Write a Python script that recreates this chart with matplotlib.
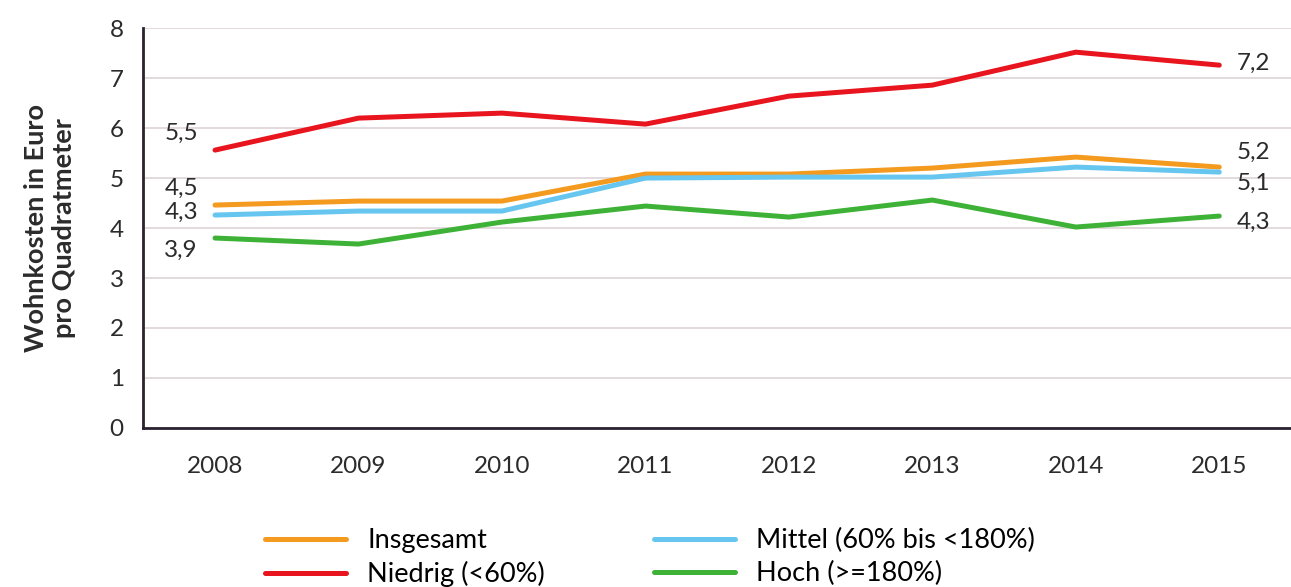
import matplotlib.pyplot as plt

plt.rcParams["font.family"] = ["Lato", "DejaVu Sans"]

# Daten
jahre = [2008, 2009, 2010, 2011, 2012, 2013, 2014, 2015]
insgesamt = [4.46, 4.54, 4.54, 5.08, 5.08, 5.20, 5.42, 5.22]
niedrig = [5.56, 6.20, 6.30, 6.08, 6.64, 6.86, 7.52, 7.26]
mittel = [4.26, 4.34, 4.34, 5.00, 5.02, 5.02, 5.22, 5.12]
hoch = [3.80, 3.68, 4.12, 4.44, 4.22, 4.56, 4.02, 4.24]

labels_links = {"niedrig": "5,5", "insgesamt": "4,5", "mittel": "4,3", "hoch": "3,9"}
labels_rechts = {"niedrig": "7,2", "insgesamt": "5,2", "mittel": "5,1", "hoch": "4,3"}

serien = [
    ("insgesamt", "Insgesamt", insgesamt, "#f39a1f"),
    ("niedrig", "Niedrig (<60%)", niedrig, "#e8141e"),
    ("mittel", "Mittel (60% bis <180%)", mittel, "#66c6ef"),
    ("hoch", "Hoch (>=180%)", hoch, "#3db236"),
]

# Label-Versatz in Pixeln (links / rechts)
off_links = {"niedrig": (-34, 17), "insgesamt": (-34, 17), "mittel": (-34, 3), "hoch": (-34, -12)}
off_rechts = {"niedrig": (34, 2), "insgesamt": (34, 15), "mittel": (34, -11), "hoch": (34, -6)}

fig = plt.figure(figsize=(12.91, 5.87), dpi=100)
ax = fig.add_axes([0.111, 0.271, 0.889, 0.681])

for key, name, werte, farbe in serien:
    ax.plot(jahre, werte, color=farbe, lw=3.6, solid_capstyle="round", label=name, zorder=3)
    ax.annotate(labels_links[key], xy=(jahre[0], werte[0]), xytext=off_links[key],
                textcoords="offset pixels", ha="center", va="center",
                fontsize=17.5, color="#2b2b2b")
    ax.annotate(labels_rechts[key], xy=(jahre[-1], werte[-1]), xytext=off_rechts[key],
                textcoords="offset pixels", ha="center", va="center",
                fontsize=17.5, color="#2b2b2b")

ax.set_xlim(2007.5, 2015.5)
ax.set_ylim(0, 8)
ax.set_xticks(jahre)
ax.set_yticks(range(0, 9))
ax.tick_params(axis="both", length=0, labelsize=17.5, colors="#2b2b2b")
ax.tick_params(axis="x", pad=20)
ax.tick_params(axis="y", pad=14)
ax.grid(axis="y", color="#ddd3d6", lw=1.2, zorder=0)
for s in ["top", "right"]:
    ax.spines[s].set_visible(False)
for s in ["left", "bottom"]:
    ax.spines[s].set_color("#2a2230")
    ax.spines[s].set_linewidth(2)

ax.set_ylabel("Wohnkosten in Euro\npro Quadratmeter", fontsize=19.5, fontweight="bold",
              color="#2b2b2b", labelpad=24, linespacing=1.2)

fig.legend(loc="lower left", bbox_to_anchor=(0.186, -0.042), ncol=2, frameon=False,
           fontsize=19.5, handlelength=3.0, handletextpad=0.8, columnspacing=4.0,
           labelspacing=0.3)

fig.savefig("out.png", dpi=100)
